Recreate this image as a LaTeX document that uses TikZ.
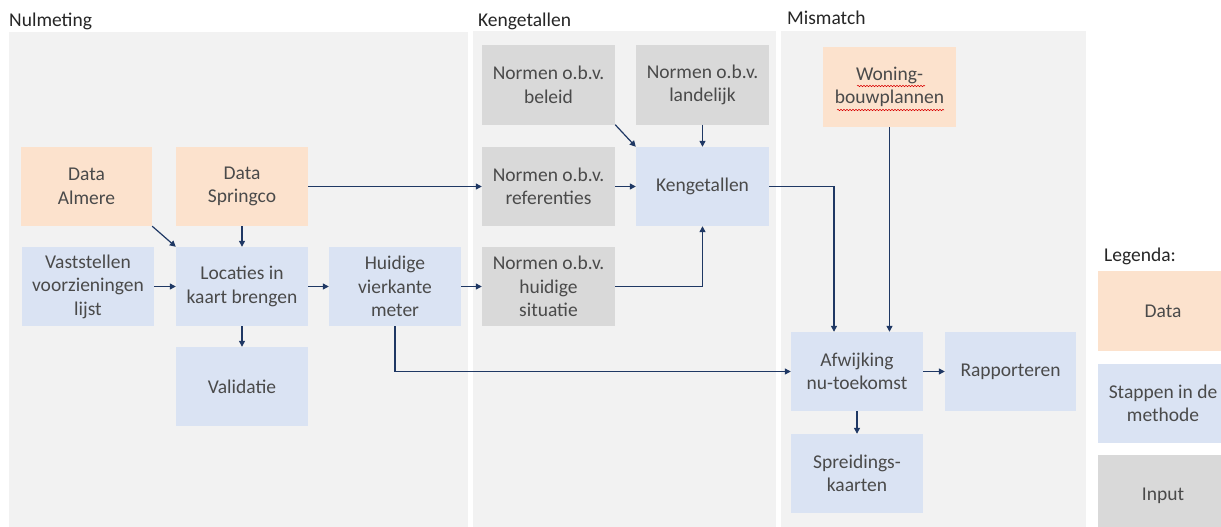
\documentclass[tikz,border=0pt]{standalone}
\usepackage{fontspec}
\setmainfont{Carlito}
\usetikzlibrary{arrows.meta,decorations.pathmorphing}
\definecolor{panel}{HTML}{F2F2F2}
\definecolor{peach}{HTML}{FCE2CD}
\definecolor{stepblue}{HTML}{DAE3F3}
\definecolor{inputgray}{HTML}{D9D9D9}
\definecolor{arrowc}{HTML}{1F3864}
\definecolor{txt}{HTML}{4A4A4A}
\definecolor{ttl}{HTML}{262626}
\tikzset{
  box/.style={minimum width=132pt, minimum height=79pt, inner sep=0pt, align=center, text=txt, font=\fontsize{19.5}{23.5}\selectfont},
  databox/.style={box, fill=peach},
  stepbox/.style={box, fill=stepblue},
  inputbox/.style={box, fill=inputgray},
  title/.style={anchor=base west, inner sep=0pt, text=ttl, font=\fontsize{19.5}{22}\selectfont},
  conn/.style={draw=arrowc, line width=1.2pt, -{Triangle[length=6pt,width=6pt]}},
}
\begin{document}
\begin{tikzpicture}[x=1pt,y=-1pt]
\useasboundingbox (0,0) rectangle (1221,527);
\clip (0,0) rectangle (1221,527);
\fill[white] (0,0) rectangle (1221,527);
% panels
\fill[panel] (9,32) rectangle (468,527);
\fill[panel] (473,31) rectangle (776,527);
\fill[panel] (781,31) rectangle (1086,527);
\node[title] (tnul) at (9,27) {Nulmeting};
\node[title] (tken) at (478,27) {Kengetallen};
\node[title] (tmis) at (787,25) {Mismatch};
% Nulmeting
\node[databox, minimum width=131pt] (almere) at (86.5,186.5) {Data\\Almere};
\node[databox] (springco) at (242,186.5) {Data\\Springco};
\node[stepbox] (vast) at (88,286.5) {Vaststellen\\voorzieningen\\lijst};
\node[stepbox] (loc) at (242,286.5) {Locaties in\\kaart brengen};
\node[stepbox] (huid) at (395,286.5) {Huidige\\vierkante\\meter};
\node[stepbox] (valid) at (242,386.5) {Validatie};
% Kengetallen
\node[inputbox, minimum width=133pt] (beleid) at (548.5,85) {Normen o.b.v.\\beleid};
\node[inputbox, minimum width=133pt] (landelijk) at (702.5,85) {Normen o.b.v.\\landelijk};
\node[inputbox, minimum width=133pt] (refer) at (548.5,186.5) {Normen o.b.v.\\referenties};
\node[stepbox, minimum width=133pt] (keng) at (702.5,186.5) {Kengetallen};
\node[inputbox, minimum width=133pt] (nhuid) at (548.5,286.5) {Normen o.b.v.\\huidige\\situatie};
% Mismatch
\node[databox, minimum width=133pt, minimum height=80pt] (woning) at (889.5,87) {Woning-\\bouwplannen};
\node[stepbox] (afw) at (857,371.5) {Afwijking\\nu-toekomst};
\node[stepbox, minimum width=131pt] (rapp) at (1010.5,371.5) {Rapporteren};
\node[stepbox] (spreid) at (857,473.5) {Spreidings-\\kaarten};
% spell-check underline
\draw[red!85!black, line width=0.5pt, decorate, decoration={snake, amplitude=0.7pt, segment length=3pt}] (857,86) -- (925,86);
\draw[red!85!black, line width=0.5pt, decorate, decoration={snake, amplitude=0.7pt, segment length=3pt}] (837,110) -- (944,110);
% Legend
\node[title] (tleg) at (1104,261) {Legenda:};
\node[databox, minimum width=130pt, minimum height=80pt] (legdata) at (1163,311) {Data};
\node[stepbox, minimum width=130pt, minimum height=79pt] (legstep) at (1163,403.5) {Stappen in de\\methode};
\node[inputbox, minimum width=130pt, minimum height=82pt] (leginput) at (1163,496) {Input};
% connectors
\draw[conn] (almere.south east) -- (loc.north west);
\draw[conn] (springco.south) -- (loc.north);
\draw[conn] (springco.east) -- (refer.west);
\draw[conn] (vast.east) -- (loc.west);
\draw[conn] (loc.east) -- (huid.west);
\draw[conn] (loc.south) -- (valid.north);
\draw[conn] (huid.east) -- (nhuid.west);
\draw[conn] (huid.south) |- (afw.west);
\draw[conn] (beleid.south east) -- (keng.north west);
\draw[conn] (landelijk.south) -- (keng.north);
\draw[conn] (refer.east) -- (keng.west);
\draw[conn] (nhuid.east) -| (keng.south);
\coordinate (kout) at (834,186.5);
\draw[conn] (keng.east) -- (kout) -- (kout |- afw.north);
\draw[conn] (woning.south) -- (woning.south |- afw.north);
\draw[conn] (afw.east) -- (rapp.west);
\draw[conn] (afw.south) -- (spreid.north);
\end{tikzpicture}
\end{document}
